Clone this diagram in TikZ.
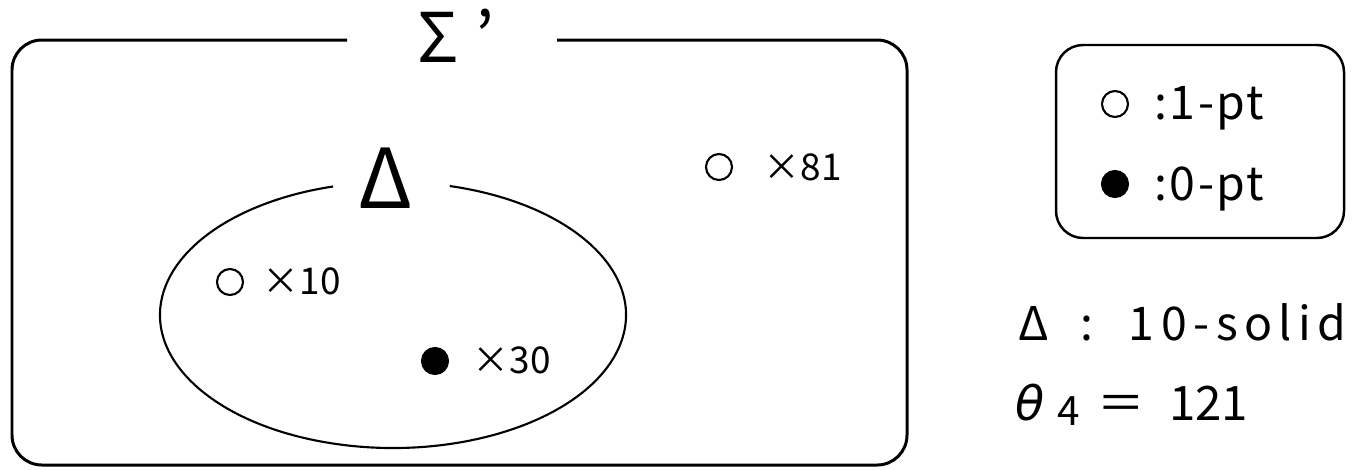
\documentclass[tikz,border=0pt]{standalone}
\usepackage{fontspec}
\setmainfont{Noto Sans CJK JP}
\newfontfamily\spacedfont{Noto Sans CJK JP}[LetterSpace=14]
\newfontfamily\legfont{Noto Sans CJK JP}[LetterSpace=5]
\newfontfamily\grkfont{DejaVu Sans}
\usetikzlibrary{positioning}

\begin{document}
\begin{tikzpicture}[x=0.01cm,y=-0.01cm,
frame/.style={draw,line width=0.85pt,rounded corners=8.5pt},
setline/.style={draw,line width=0.6pt},
opendot/.style={circle,draw,line width=0.6pt,minimum size=0.26cm,inner sep=0pt},
fulldot/.style={opendot,fill=black},
cnt/.style={anchor=base west,inner sep=0pt,font=\fontsize{10.5}{12}\selectfont},
leg/.style={anchor=base west,inner sep=0pt,font=\legfont\fontsize{13.2}{14}\selectfont},
big/.style={anchor=base,inner sep=0pt}]
\useasboundingbox (0,0) rectangle (1352,469);
% outer set with its label
\node[big,font=\fontsize{19.5}{20}\selectfont] (sigma) at (456,62) {Σ\hspace{5pt}’};
\draw[frame] (347,40) -- (12,40) -- (12,465) -- (907,465) -- (907,40) -- (557,40);
% inner set
\node[big,font=\fontsize{23.5}{24}\selectfont] (delta) at (386,208) {Δ};
\draw[setline] (393,315) ++(284.1:233 and 133) arc[start angle=284.1,end angle=615.1,x radius=233,y radius=133];
\node[opendot] (w10) at (230,282) {};
\node[cnt] (n10) at (262,294) {×10};
\node[fulldot] (b30) at (435,361) {};
\node[cnt] (n30) at (472,373) {×30};
\node[opendot] (w81) at (719,167) {};
\node[cnt] (n81) at (763,180) {×81};
% legend
\draw[frame,line width=0.7pt,rounded corners=7.7pt] (1056,45) rectangle (1344,238);
\node[opendot] (lw) at (1115,104) {};
\node[leg] (lwt) at (1154,119) {:1-pt};
\node[fulldot] (lb) at (1115,184) {};
\node[leg] (lbt) at (1154,200) {:0-pt};
% notes
\node[anchor=base west,inner sep=0pt,font=\spacedfont\fontsize{13.2}{14}\selectfont] (solid) at (1018,340) {Δ\hspace{9pt}:\hspace{10pt}10-solid};
\node[anchor=base west,inner sep=0pt,font=\fontsize{13.5}{15}\selectfont] (theta) at (1015,420) {{\grkfont\itshape θ}\hspace{3.5pt}\raisebox{-1.5pt}{\fontsize{11.5}{12}\selectfont 4}\hspace{5pt}＝\hspace{7pt}121};
\end{tikzpicture}
\end{document}
